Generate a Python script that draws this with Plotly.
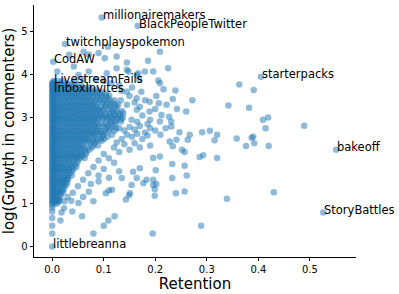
import plotly.graph_objects as go

# ---- labelled subreddits (retention, log growth) ----
label_names = ["millionairemakers", "BlackPeopleTwitter", "twitchplayspokemon", "CodAW",
               "LivestreamFails", "InboxInvites", "starterpacks", "bakeoff",
               "StoryBattles", "littlebreanna"]
label_retention = [0.096, 0.166, 0.025, 0.002, 0.002, 0.002, 0.405, 0.551, 0.526, 0.0]
label_growth = [5.33, 5.13, 4.71, 4.30, 3.83, 3.64, 3.95, 2.25, 0.79, 0.0]

# ---- subreddits with zero retention (column at x = 0) ----
zero_growth = [0.30, 0.48, 0.66, 0.81, 0.90, 0.97, 1.02, 1.07, 1.12, 1.17, 1.22, 1.27, 1.32,
               1.37, 1.42, 1.47, 1.52, 1.57, 1.62, 1.67, 1.72, 1.77, 1.82, 1.87, 1.92, 1.97,
               2.02, 2.07, 2.12, 2.17, 2.22, 2.27, 2.32, 2.37, 2.42, 2.47, 2.52, 2.57, 2.62,
               2.67, 2.72, 2.77, 2.82, 2.87, 2.92, 2.97, 3.02, 3.07, 3.12, 3.17, 3.22, 3.27,
               3.32, 3.37, 3.42, 3.47, 3.52, 3.57, 3.62, 3.67, 3.72, 3.77, 3.80]

# ---- dense core, first set: growth of each row and the retention values in it ----
core_growth = [1.00, 1.09, 1.21, 1.30, 1.41, 1.50, 1.59, 1.71, 1.80, 1.90, 2.01, 2.10, 2.19,
               2.30, 2.41, 2.50, 2.60, 2.69, 2.80, 2.91, 3.00, 3.10, 3.19, 3.30, 3.40, 3.51,
               3.60, 3.70, 3.79]
core_retention = [
    [0.004, 0.010],
    [0.005, 0.012],
    [0.004, 0.011, 0.017],
    [0.005, 0.012, 0.020],
    [0.004, 0.011, 0.018, 0.025],
    [0.005, 0.013, 0.020, 0.027],
    [0.004, 0.012, 0.019, 0.026, 0.031],
    [0.005, 0.012, 0.020, 0.027, 0.035],
    [0.004, 0.011, 0.018, 0.026, 0.033, 0.041],
    [0.005, 0.013, 0.020, 0.028, 0.036, 0.045],
    [0.004, 0.011, 0.019, 0.026, 0.034, 0.042, 0.050],
    [0.005, 0.012, 0.020, 0.028, 0.036, 0.044, 0.051, 0.058],
    [0.004, 0.011, 0.019, 0.027, 0.035, 0.043, 0.050, 0.058, 0.066],
    [0.005, 0.012, 0.020, 0.028, 0.036, 0.044, 0.052, 0.060, 0.068, 0.077],
    [0.004, 0.011, 0.019, 0.027, 0.035, 0.043, 0.051, 0.059, 0.067, 0.075, 0.083],
    [0.005, 0.012, 0.020, 0.028, 0.036, 0.044, 0.052, 0.060, 0.068, 0.084, 0.093, 0.101],
    [0.004, 0.011, 0.019, 0.027, 0.035, 0.043, 0.051, 0.059, 0.067, 0.075, 0.083, 0.091, 0.099, 0.116],
    [0.005, 0.012, 0.020, 0.028, 0.036, 0.044, 0.052, 0.060, 0.068, 0.076, 0.084, 0.092, 0.100, 0.110, 0.121],
    [0.004, 0.011, 0.019, 0.027, 0.035, 0.043, 0.051, 0.059, 0.067, 0.075, 0.083, 0.091, 0.100, 0.108, 0.118],
    [0.005, 0.012, 0.020, 0.028, 0.036, 0.044, 0.052, 0.060, 0.068, 0.076, 0.084, 0.112, 0.122, 0.133],
    [0.004, 0.011, 0.019, 0.027, 0.035, 0.043, 0.051, 0.059, 0.067, 0.075, 0.083, 0.091, 0.099, 0.108, 0.117, 0.127, 0.137],
    [0.005, 0.012, 0.020, 0.028, 0.036, 0.044, 0.052, 0.060, 0.068, 0.076, 0.084, 0.093, 0.102, 0.111, 0.120, 0.130, 0.138],
    [0.004, 0.011, 0.019, 0.027, 0.035, 0.043, 0.051, 0.059, 0.067, 0.075, 0.083, 0.091, 0.100, 0.109, 0.119],
    [0.005, 0.012, 0.020, 0.028, 0.036, 0.044, 0.052, 0.060, 0.068, 0.076, 0.084, 0.102, 0.112, 0.122, 0.128],
    [0.004, 0.011, 0.019, 0.027, 0.035, 0.043, 0.051, 0.059, 0.067, 0.075, 0.084, 0.093, 0.102, 0.111, 0.121, 0.133],
    [0.005, 0.012, 0.020, 0.028, 0.036, 0.044, 0.052, 0.060, 0.068, 0.077, 0.086, 0.095, 0.104, 0.111],
    [0.004, 0.011, 0.019, 0.027, 0.035, 0.043, 0.052, 0.061, 0.070, 0.079, 0.088, 0.097],
    [0.005, 0.013, 0.022, 0.031, 0.040, 0.050, 0.060, 0.071],
    [0.006, 0.016, 0.027, 0.038],
]

# ---- dense core, second set (rows lying between the first set) ----
core_growth_b = [1.05, 1.15, 1.26, 1.35, 1.46, 1.55, 1.65, 1.76, 1.85, 1.95, 2.06, 2.15, 2.25,
                 2.35, 2.46, 2.55, 2.65, 2.75, 2.86, 2.96, 3.05, 3.15, 3.25, 3.35, 3.46, 3.56,
                 3.65, 3.75, 3.85]
core_retention_b = [
    [0.002, 0.008, 0.014],
    [0.002, 0.008, 0.015],
    [0.002, 0.008, 0.014, 0.021],
    [0.002, 0.009, 0.016, 0.023],
    [0.002, 0.008, 0.015, 0.022, 0.029],
    [0.002, 0.009, 0.016, 0.023, 0.030],
    [0.002, 0.008, 0.015, 0.023, 0.031, 0.038],
    [0.002, 0.009, 0.016, 0.024, 0.031, 0.039],
    [0.002, 0.008, 0.015, 0.022, 0.030, 0.038, 0.047],
    [0.002, 0.009, 0.016, 0.024, 0.032, 0.040, 0.049],
    [0.002, 0.008, 0.015, 0.023, 0.031, 0.039, 0.047, 0.055, 0.063],
    [0.002, 0.009, 0.016, 0.024, 0.032, 0.040, 0.048, 0.056, 0.065],
    [0.002, 0.008, 0.015, 0.023, 0.031, 0.039, 0.047, 0.055, 0.063, 0.072],
    [0.002, 0.009, 0.016, 0.024, 0.032, 0.040, 0.048, 0.056, 0.080, 0.089],
    [0.002, 0.008, 0.015, 0.023, 0.031, 0.039, 0.047, 0.055, 0.063, 0.071, 0.079, 0.087, 0.096],
    [0.002, 0.009, 0.016, 0.024, 0.032, 0.040, 0.048, 0.056, 0.064, 0.072, 0.080, 0.097, 0.107],
    [0.002, 0.008, 0.015, 0.023, 0.031, 0.039, 0.047, 0.055, 0.063, 0.071, 0.079, 0.087, 0.095, 0.104],
    [0.002, 0.009, 0.016, 0.024, 0.032, 0.040, 0.048, 0.056, 0.064, 0.072, 0.080, 0.088, 0.104, 0.113, 0.124],
    [0.002, 0.008, 0.015, 0.023, 0.031, 0.039, 0.047, 0.055, 0.063, 0.071, 0.079, 0.087, 0.096, 0.105, 0.114, 0.123],
    [0.002, 0.009, 0.016, 0.024, 0.032, 0.040, 0.048, 0.056, 0.064, 0.072, 0.080, 0.088, 0.097, 0.106, 0.115, 0.125, 0.134],
    [0.002, 0.008, 0.015, 0.023, 0.031, 0.039, 0.047, 0.055, 0.063, 0.071, 0.079, 0.087, 0.095, 0.104, 0.113, 0.122, 0.132],
    [0.002, 0.009, 0.016, 0.024, 0.032, 0.040, 0.048, 0.056, 0.064, 0.072, 0.080, 0.088, 0.097, 0.115, 0.125, 0.135],
    [0.002, 0.008, 0.015, 0.023, 0.031, 0.039, 0.047, 0.055, 0.063, 0.071, 0.079, 0.087, 0.095, 0.104, 0.114, 0.125],
    [0.002, 0.009, 0.016, 0.024, 0.032, 0.040, 0.048, 0.056, 0.064, 0.072, 0.080, 0.089, 0.098, 0.107, 0.117],
    [0.002, 0.008, 0.015, 0.023, 0.031, 0.039, 0.047, 0.055, 0.063, 0.071, 0.080, 0.089, 0.098, 0.108],
    [0.002, 0.009, 0.016, 0.024, 0.032, 0.040, 0.048, 0.056, 0.065, 0.074, 0.083, 0.093, 0.104],
    [0.002, 0.008, 0.015, 0.023, 0.031, 0.039, 0.048, 0.057, 0.066, 0.076, 0.086],
    [0.002, 0.009, 0.017, 0.026, 0.035, 0.045, 0.056],
    [0.003, 0.011, 0.020],
]

# ---- scattered subreddits (retention, log growth) ----
scatter_points = [
    (0.033, 4.46), (0.042, 4.19), (0.061, 4.53), (0.071, 4.47), (0.090, 4.50), (0.108, 4.65),
    (0.125, 4.42), (0.102, 4.38), (0.145, 4.28), (0.186, 4.32), (0.209, 4.53), (0.225, 4.15),
    (0.148, 4.07), (0.167, 4.03), (0.196, 4.07), (0.010, 4.07), (0.051, 3.99), (0.071, 4.07),
    (0.106, 4.03), (0.125, 4.15), (0.145, 4.11), (0.164, 3.99), (0.180, 4.07),
    (0.363, 3.77), (0.391, 3.64), (0.342, 3.28), (0.382, 3.23), (0.409, 2.95), (0.419, 3.00),
    (0.414, 2.75), (0.489, 2.81), (0.306, 2.69), (0.320, 2.60), (0.315, 2.47), (0.358, 2.51),
    (0.387, 2.53), (0.390, 2.55), (0.392, 2.40), (0.376, 2.34), (0.420, 2.34), (0.320, 2.06),
    (0.339, 1.11), (0.430, 1.26), (0.289, 0.48),
    (0.206, 3.86), (0.209, 3.80), (0.169, 3.88), (0.216, 3.66), (0.239, 3.63), (0.173, 3.60),
    (0.272, 3.40), (0.234, 3.43), (0.202, 3.50), (0.260, 3.14), (0.242, 3.20), (0.222, 3.30),
    (0.207, 3.33), (0.189, 3.37), (0.164, 3.45), (0.231, 2.91), (0.209, 2.91), (0.212, 3.06),
    (0.227, 3.02), (0.189, 3.14), (0.164, 3.18), (0.154, 2.95),
    (0.231, 2.79), (0.247, 2.66), (0.267, 2.60), (0.291, 2.66), (0.263, 2.48), (0.241, 2.48),
    (0.228, 2.44), (0.234, 2.33), (0.252, 2.25), (0.257, 2.20), (0.286, 2.08), (0.293, 2.12),
    (0.209, 2.09), (0.196, 2.06), (0.233, 1.92), (0.257, 1.88), (0.261, 1.65), (0.201, 1.77),
    (0.170, 1.82), (0.157, 1.74), (0.164, 1.59), (0.177, 1.47), (0.135, 1.59), (0.151, 1.24),
    (0.240, 1.24), (0.257, 1.28), (0.202, 1.45),
    (0.154, 1.43), (0.196, 1.43), (0.116, 1.32), (0.149, 1.19), (0.143, 1.09), (0.199, 1.18),
    (0.121, 0.70), (0.195, 0.30),
    (0.016, 0.60), (0.058, 0.70), (0.080, 0.30), (0.100, 0.48), (0.109, 0.60), (0.012, 1.07),
    (0.024, 1.05), (0.037, 1.06), (0.051, 1.01), (0.039, 0.81), (0.023, 0.89), (0.018, 0.79),
    (0.071, 1.27), (0.104, 1.24), (0.110, 1.30), (0.199, 1.33), (0.233, 1.59), (0.196, 1.55),
    (0.183, 1.55), (0.090, 1.51),
    (0.130, 2.75), (0.140, 2.70), (0.150, 2.78), (0.160, 2.72), (0.170, 2.80), (0.180, 2.65),
    (0.190, 2.75), (0.200, 2.70), (0.145, 2.60), (0.155, 2.55), (0.165, 2.62), (0.175, 2.50),
    (0.185, 2.58), (0.135, 2.50), (0.125, 2.42), (0.140, 2.38), (0.160, 2.40), (0.120, 2.30),
    (0.130, 2.20), (0.150, 2.25), (0.170, 2.30), (0.190, 2.35), (0.210, 2.60), (0.220, 2.75),
    (0.100, 2.15), (0.110, 2.05), (0.090, 2.00), (0.120, 1.95), (0.080, 1.85), (0.100, 1.80),
    (0.070, 1.70), (0.090, 1.65), (0.060, 1.55), (0.110, 1.60), (0.130, 1.75), (0.050, 1.40),
    (0.075, 1.45), (0.040, 1.25), (0.060, 1.15), (0.080, 1.05), (0.030, 1.15),
    (0.145, 3.30), (0.150, 3.50), (0.160, 3.35), (0.170, 3.25), (0.175, 3.05), (0.180, 3.40),
    (0.145, 3.60), (0.155, 3.70), (0.130, 3.75), (0.115, 3.80), (0.100, 3.85), (0.085, 3.90),
    (0.060, 3.88), (0.045, 3.85), (0.135, 3.62), (0.190, 2.95), (0.200, 3.20), (0.185, 2.85),
    (0.165, 2.90),
]

# ---- assemble all points ----
xs, ys = [], []
for g in zero_growth:
    xs.append(0.0)
    ys.append(g)
for growth_rows, retention_rows in ((core_growth, core_retention), (core_growth_b, core_retention_b)):
    for g, row in zip(growth_rows, retention_rows):
        for r in row:
            xs.append(r)
            ys.append(g)
for r, g in scatter_points:
    xs.append(r)
    ys.append(g)
xs += label_retention
ys += label_growth

fig = go.Figure()
fig.add_trace(go.Scatter(
    x=xs, y=ys, mode="markers",
    marker=dict(color="#1f77b4", size=6.5, opacity=0.5, line=dict(width=0)),
    hoverinfo="skip", showlegend=False,
))

for name, r, g in zip(label_names, label_retention, label_growth):
    fig.add_annotation(x=r, y=g, text=name, showarrow=False, xanchor="left", yanchor="bottom",
                       xshift=0, yshift=-5.5, borderpad=0,
                       font=dict(family="DejaVu Sans", size=11.5, color="black"))

axis_common = dict(showline=True, linecolor="black", linewidth=0.8, ticks="outside",
                   ticklen=3.5, tickwidth=0.8, tickcolor="black", showgrid=False,
                   zeroline=False, tickfont=dict(family="DejaVu Sans", size=10, color="black"))

fig.update_layout(
    width=399, height=294,
    margin=dict(l=32, r=43, t=5, b=37),
    plot_bgcolor="white", paper_bgcolor="white",
    font=dict(family="DejaVu Sans", size=10, color="black"),
    xaxis=dict(range=[-0.0353, 0.5895], tickvals=[0, 0.1, 0.2, 0.3, 0.4, 0.5],
               ticktext=["0.0", "0.1", "0.2", "0.3", "0.4", "0.5"],
               title=dict(text="Retention", font=dict(family="DejaVu Sans", size=15), standoff=0),
               **axis_common),
    yaxis=dict(range=[-0.247, 5.62], tickvals=[0, 1, 2, 3, 4, 5],
               title=dict(text="log(Growth in commenters)", font=dict(family="DejaVu Sans", size=15), standoff=6),
               **axis_common),
)

fig.write_html("out.html", config={"displayModeBar": False},
               post_script="document.body.style.margin='0px';")
